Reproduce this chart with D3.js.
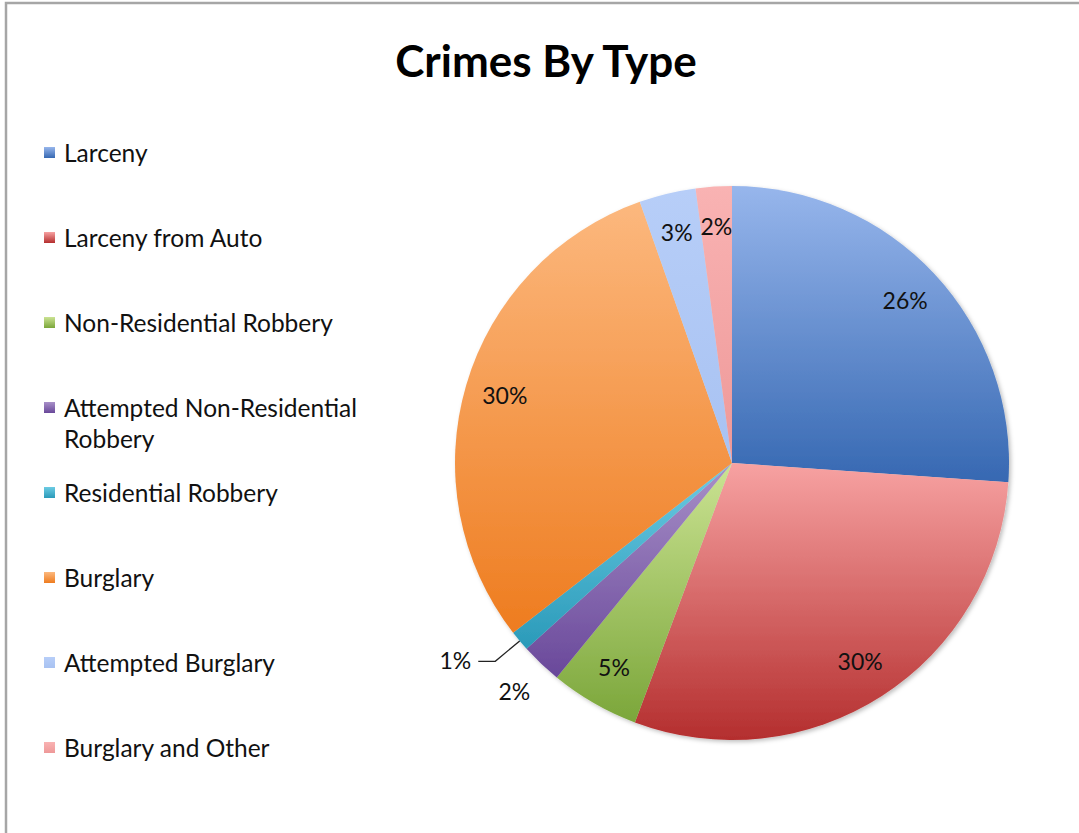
<!DOCTYPE html>
<html>
<head>
<meta charset="utf-8">
<script src="https://cdn.jsdelivr.net/npm/d3@7"></script>
<style>
  body { margin: 0; background: #fff; }
  text { font-family: Lato, "Open Sans", sans-serif; fill: #111; }
</style>
</head>
<body>
<div id="wrapper"></div>
<script>
// crime categories and their share of all crimes (%)
const categories = ["Larceny", "Larceny from Auto", "Non-Residential Robbery",
                    "Attempted Non-Residential Robbery", "Residential Robbery",
                    "Burglary", "Attempted Burglary", "Burglary and Other"];
const values = [26.1, 29.6, 5.2, 2.4, 1.2, 30.1, 3.3, 2.1];
// legend text is wrapped like in the original
const legendLines = [["Larceny"], ["Larceny from Auto"], ["Non-Residential Robbery"],
                     ["Attempted Non-Residential", "Robbery"], ["Residential Robbery"],
                     ["Burglary"], ["Attempted Burglary"], ["Burglary and Other"]];
// light (top) and dark (bottom) colour of each slice
const colorsLight = ["#97b6ec", "#f7a2a2", "#cbe393", "#a890c8", "#6ccbe3", "#fcb87e", "#b7cef8", "#f9b3b3"];
const colorsDark  = ["#3668b2", "#b42e2e", "#7ba63a", "#69489a", "#2a9ab9", "#ee7c1f", "#a8c2f2", "#ee9898"];

function build() {
    const width = 1079, height = 833;
    const cx = 732, cy = 463, radius = 277;

    const svg = d3.select("#wrapper")
        .append("svg")
        .attr("width", width)
        .attr("height", height);

    const defs = svg.append("defs");

    // gradient per slice
    categories.forEach((c, i) => {
        const g = defs.append("linearGradient")
            .attr("id", "grad" + i)
            .attr("x1", 0).attr("y1", 0)
            .attr("x2", 0).attr("y2", 1);
        g.append("stop").attr("offset", "0%").attr("stop-color", colorsLight[i]);
        g.append("stop").attr("offset", "100%").attr("stop-color", colorsDark[i]);
    });

    const shadow = defs.append("filter").attr("id", "shadow")
        .attr("x", "-10%").attr("y", "-10%").attr("width", "120%").attr("height", "120%");
    shadow.append("feDropShadow")
        .attr("dx", 2).attr("dy", 2)
        .attr("stdDeviation", 2)
        .attr("flood-color", "#000")
        .attr("flood-opacity", 0.25);

    // frame
    svg.append("rect")
        .attr("x", 6).attr("y", 3)
        .attr("width", width + 10).attr("height", height + 10)
        .attr("fill", "none")
        .attr("stroke", "#a6a6a6")
        .attr("stroke-width", 2.5);

    // title
    svg.append("text")
        .attr("x", 546).attr("y", 77)
        .attr("text-anchor", "middle")
        .style("font-size", "44px")
        .style("font-weight", "bold")
        .style("fill", "#000")
        .text("Crimes By Type");

    const data = categories.map((c, i) => ({ name: c, value: values[i], index: i }));
    const total = d3.sum(values);

    const pie = d3.pie()
        .sort(null)
        .value(d => d.value);

    const arcs = pie(data);

    const arc = d3.arc()
        .innerRadius(0)
        .outerRadius(radius);

    const chart = svg.append("g")
        .attr("transform", `translate(${cx},${cy})`);

    const slices = chart.append("g").attr("filter", "url(#shadow)");

    slices.selectAll("path")
        .data(arcs)
        .enter()
        .append("path")
        .attr("d", arc)
        .attr("fill", d => `url(#grad${d.data.index})`);

    // labels inside the slices
    const inner = d3.arc().innerRadius(radius * 0.855).outerRadius(radius * 0.855);
    const outer = d3.arc().innerRadius(radius * 1.14).outerRadius(radius * 1.14);
    const pct = d => Math.round(d.data.value / total * 100) + "%";

    chart.selectAll("text.label")
        .data(arcs.filter(d => d.data.index !== 3 && d.data.index !== 4))
        .enter()
        .append("text")
        .attr("class", "label")
        .attr("transform", d => `translate(${inner.centroid(d)})`)
        .attr("text-anchor", "middle")
        .attr("dy", "0.35em")
        .style("font-size", "23px")
        .text(pct);

    // purple: outside, no leader
    const purple = arcs[3];
    chart.append("text")
        .attr("transform", `translate(${outer.centroid(purple)})`)
        .attr("text-anchor", "middle")
        .attr("dy", "0.35em")
        .style("font-size", "23px")
        .text(pct(purple));

    // cyan: outside with leader line
    const cyan = arcs[4];
    const mid = (cyan.startAngle + cyan.endAngle) / 2;
    const p0 = [Math.sin(mid) * radius, -Math.cos(mid) * radius];
    const p1 = [Math.sin(mid) * radius * 1.115, -Math.cos(mid) * radius * 1.115];
    const p2 = [p1[0] - 17, p1[1]];
    chart.append("path")
        .attr("d", d3.line()([p0, p1, p2]))
        .attr("fill", "none")
        .attr("stroke", "#222")
        .attr("stroke-width", 1.3);
    chart.append("text")
        .attr("x", p2[0] - 7).attr("y", p2[1])
        .attr("text-anchor", "end")
        .attr("dy", "0.35em")
        .style("font-size", "23px")
        .text(pct(cyan));

    // legend
    const legendY = d3.scaleLinear().domain([0, 1]).range([162, 247]);
    const legend = svg.append("g");
    legendLines.forEach((lines, i) => {
        const y = legendY(i);
        const item = legend.append("g");
        item.append("rect")
            .attr("x", 44).attr("y", y - 15)
            .attr("width", 11).attr("height", 11)
            .attr("fill", `url(#grad${i})`);
        lines.forEach((t, j) => {
            item.append("text")
                .attr("x", 64).attr("y", y + j * 31)
                .style("font-size", "24.5px")
                .text(t);
        });
    });
}

build();
</script>
</body>
</html>
